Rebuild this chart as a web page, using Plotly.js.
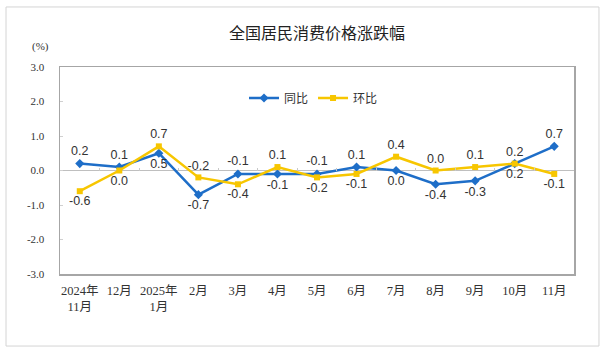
<!DOCTYPE html>
<html>
<head>
<meta charset="utf-8">
<script src="https://cdn.plot.ly/plotly-3.0.1.min.js"></script>
<style>html,body{margin:0;padding:0;background:#fff;}#chart{width:606px;height:351px;}</style>
</head>
<body>
<div id="chart"></div>
<script>
const categories = ["2024年<br>11月","12月","2025年<br>1月","2月","3月","4月","5月","6月","7月","8月","9月","10月","11月"];
const yoy = [0.2, 0.1, 0.5, -0.7, -0.1, -0.1, -0.1, 0.1, 0.0, -0.4, -0.3, 0.2, 0.7];
const mom = [-0.6, 0.0, 0.7, -0.2, -0.4, 0.1, -0.2, -0.1, 0.4, 0.0, 0.1, 0.2, -0.1];
const yoyPos = ["top","top","bottom","bottom","top","bottom","top","top","bottom","bottom","bottom","bottom","top"];
const momPos = ["bottom","bottom","top","top","bottom","top","bottom","bottom","top","top","top","top","bottom"];
const yTicks = [-3, -2, -1, 0, 1, 2, 3];

const fmt = v => v.toFixed(1);
const labelFont = {family: "Liberation Sans, Arial, sans-serif", size: 12.5, color: "#333"};

const traces = [
  {
    x: categories, y: yoy, name: "同比", type: "scatter", mode: "lines+markers+text",
    line: {color: "#1e6ec8", width: 2.5},
    marker: {symbol: "diamond", size: 7, color: "#1e6ec8"},
    text: yoy.map(fmt), textposition: yoyPos.map(p => p + " center"),
    textfont: labelFont, cliponaxis: false
  },
  {
    x: categories, y: mom, name: "环比", type: "scatter", mode: "lines+markers+text",
    line: {color: "#f7c600", width: 2.5},
    marker: {symbol: "square", size: 6, color: "#f7c600"},
    text: mom.map(fmt), textposition: momPos.map(p => p + " center"),
    textfont: labelFont, cliponaxis: false
  },
  {
    x: categories, y: categories.map(() => null), xaxis: "x2", type: "scatter", mode: "lines",
    showlegend: false, hoverinfo: "skip", line: {width: 0}
  }
];

const tickFont = {family: "Liberation Serif, Noto Sans CJK SC, serif", size: 12.5, color: "#333"};

const layout = {
  width: 606, height: 351,
  margin: {l: 60, r: 32, t: 67, b: 77},
  paper_bgcolor: "#fff", plot_bgcolor: "#fff",
  showlegend: true,
  title: {
    text: "全国居民消费价格涨跌幅",
    font: {family: "Noto Sans CJK SC, sans-serif", size: 16, color: "#222"},
    xref: "paper", x: 0.5, xanchor: "center",
    yref: "container", y: 0.906, yanchor: "middle"
  },
  legend: {
    orientation: "h", x: 0.358, xanchor: "left", y: 0.85, yanchor: "middle",
    font: {family: "Noto Sans CJK SC, sans-serif", size: 12, color: "#333"},
    bgcolor: "rgba(0,0,0,0)", itemwidth: 30, tracegroupgap: 0
  },
  xaxis: {
    type: "category", range: [-0.5, 12.5], autorange: false,
    showgrid: false, zeroline: false,
    showline: true, linecolor: "#a6a6a6", linewidth: 1.5, mirror: true,
    ticks: "", tickfont: tickFont, ticklabelstandoff: 4,
    fixedrange: true
  },
  xaxis2: {
    type: "category", range: [-0.5, 12.5], autorange: false,
    overlaying: "x", anchor: "free", position: 0.5, side: "bottom",
    showgrid: false, zeroline: false, showline: false, showticklabels: false,
    ticks: "inside", tickson: "boundaries", ticklen: 3, tickwidth: 1, tickcolor: "#c8c8c8",
    fixedrange: true
  },
  yaxis: {
    range: [-3, 3], tickvals: yTicks, ticktext: yTicks.map(fmt),
    showgrid: false,
    zeroline: true, zerolinecolor: "#bfbfbf", zerolinewidth: 1.5,
    showline: true, linecolor: "#a6a6a6", linewidth: 1.5, mirror: true,
    ticks: "inside", ticklen: 3, tickwidth: 1, tickcolor: "#d0d0d0",
    tickfont: {family: "Liberation Serif, serif", size: 11, color: "#333"},
    ticklabelstandoff: 12,
    fixedrange: true
  },
  shapes: [{
    type: "rect", xref: "paper", yref: "paper",
    x0: -0.105, x1: 1.0486, y0: -0.348, y1: 1.29,
    line: {color: "#d4d4d4", width: 1}, fillcolor: "rgba(0,0,0,0)", layer: "below"
  }],
  annotations: [{
    text: "(%)", xref: "paper", yref: "paper", x: -0.037, y: 1.097,
    xanchor: "center", yanchor: "middle", showarrow: false,
    font: {family: "Liberation Serif, serif", size: 11, color: "#333"}
  }]
};

Plotly.newPlot("chart", traces, layout, {staticPlot: true, displayModeBar: false});
</script>
</body>
</html>
